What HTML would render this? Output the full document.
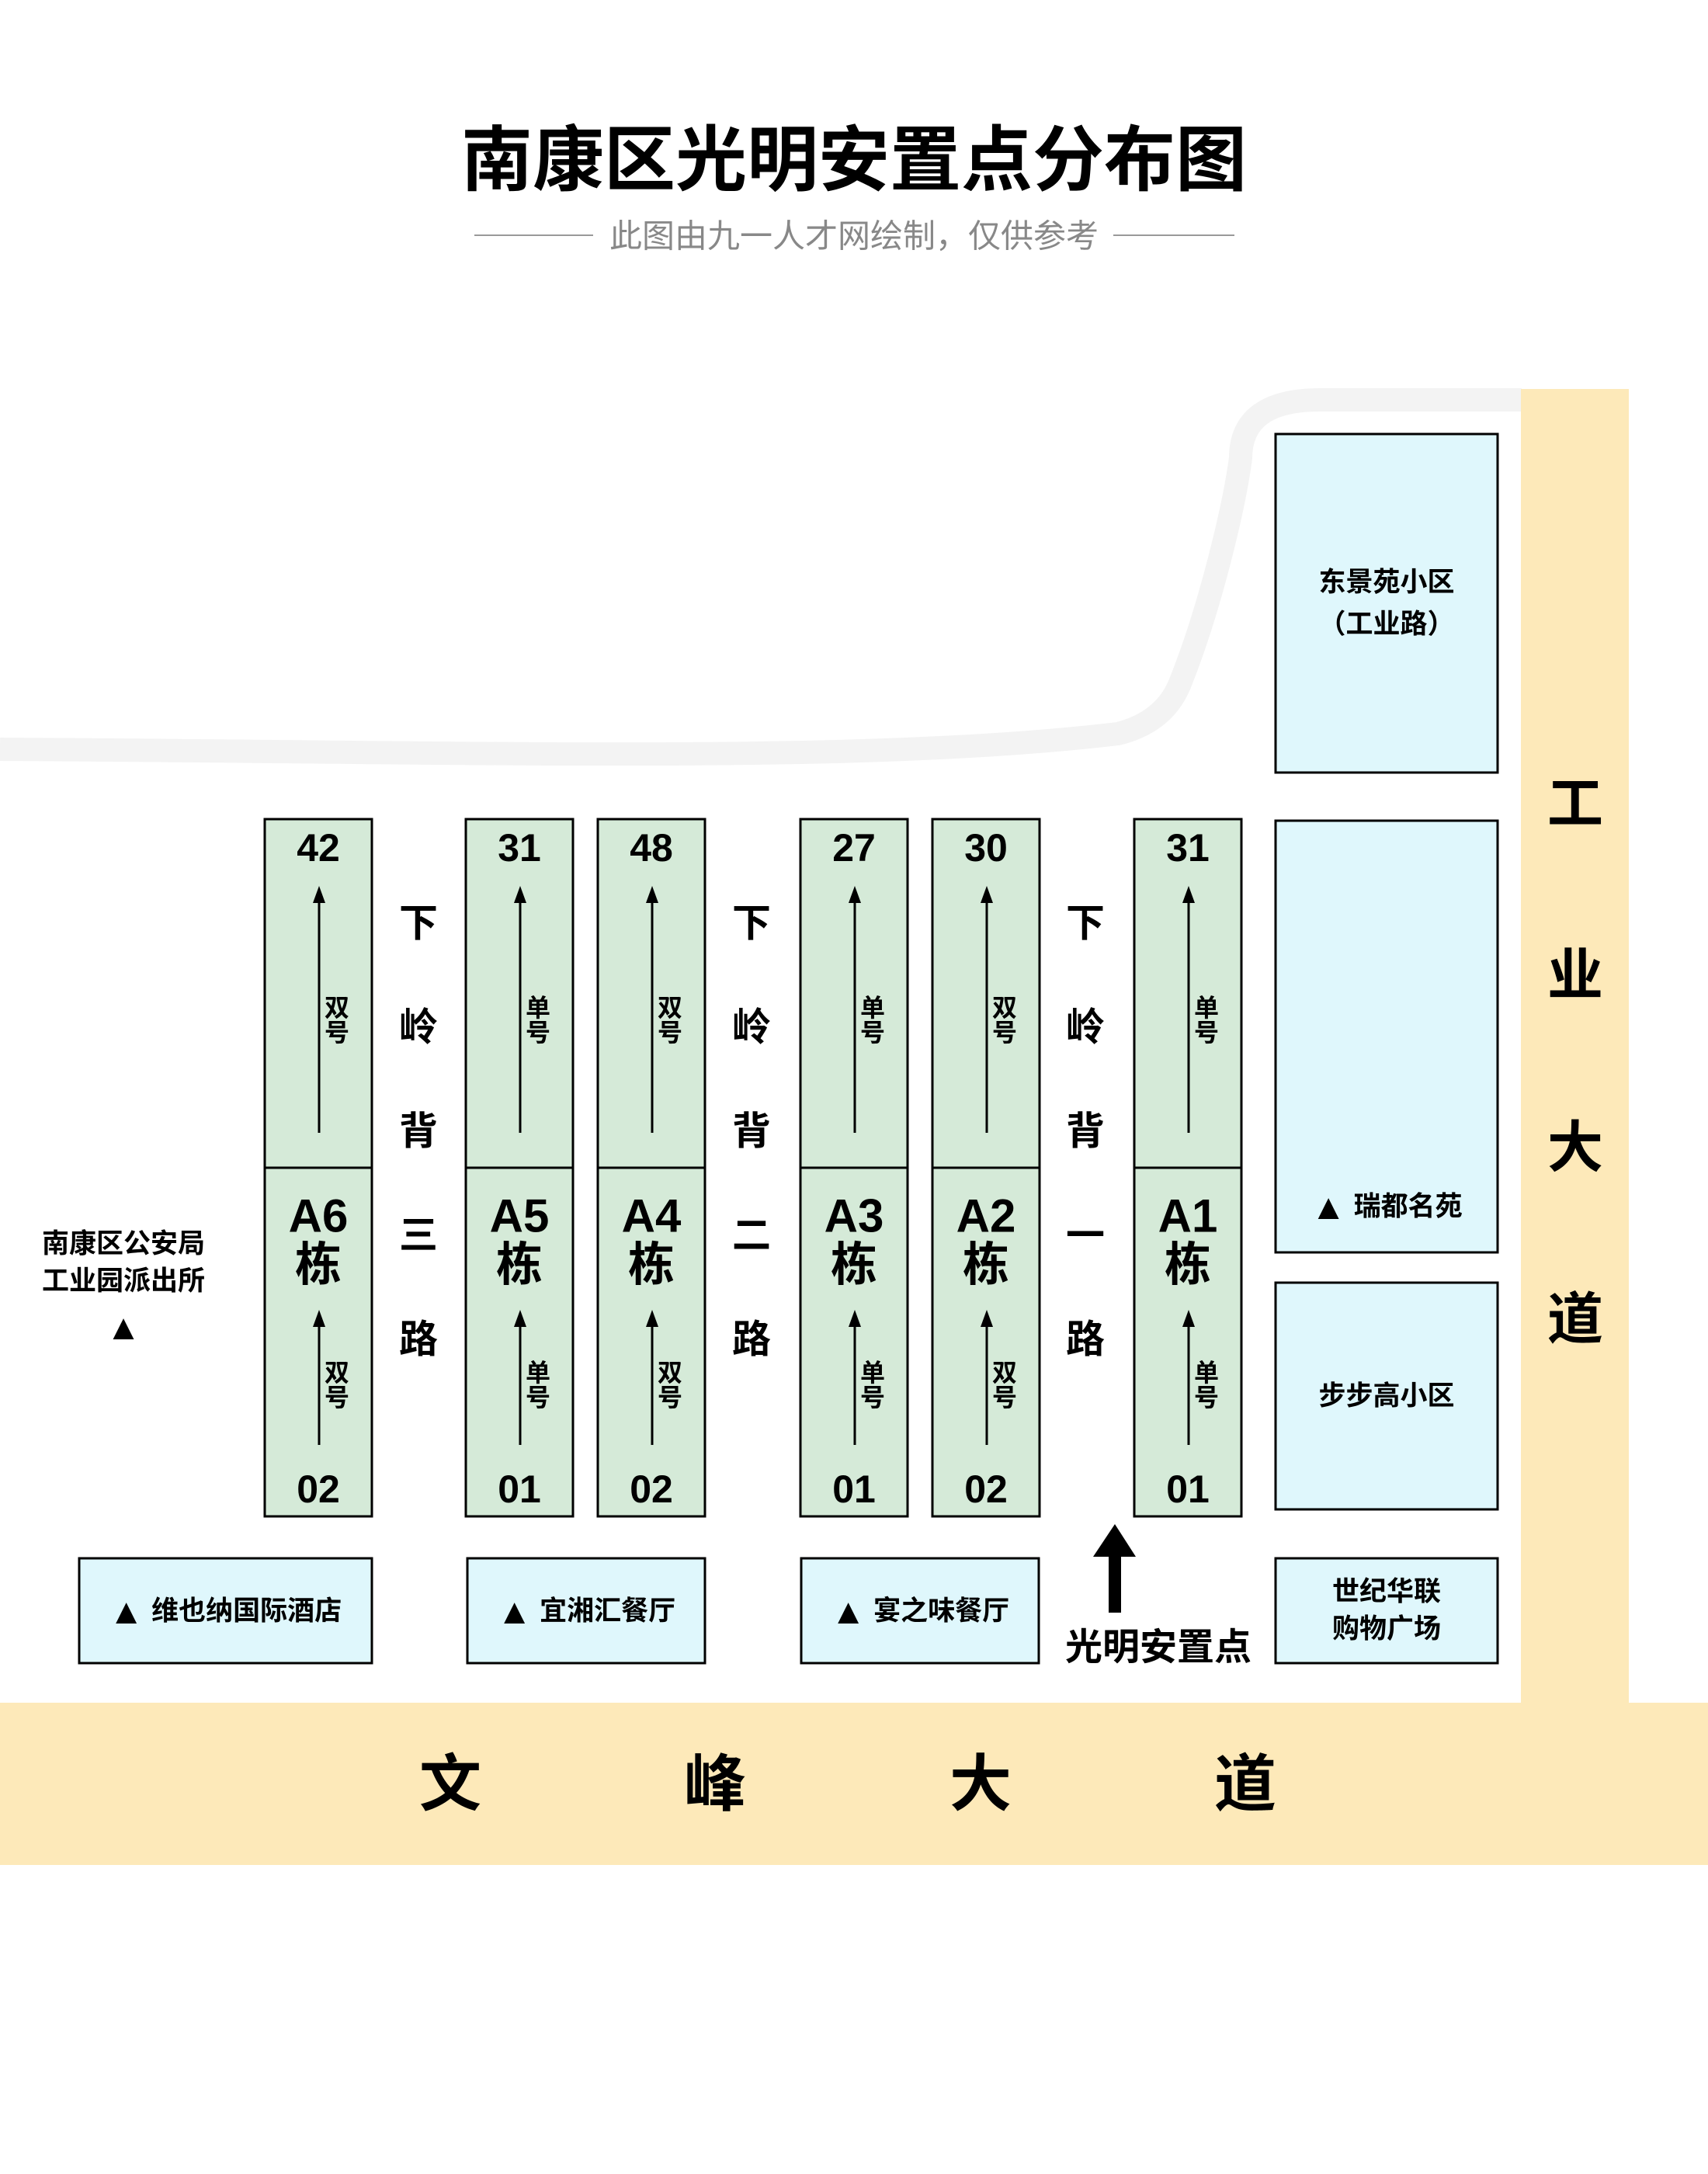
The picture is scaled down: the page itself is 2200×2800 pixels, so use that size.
<!DOCTYPE html>
<html><head><meta charset="utf-8"><style>
html,body{margin:0;padding:0;background:#fff;}
svg{display:block;}
text{font-family:"Liberation Sans","Noto Sans CJK SC",sans-serif;font-weight:bold;fill:#000;}
</style></head><body>
<svg width="2200" height="2800" viewBox="0 0 2200 2800" xmlns="http://www.w3.org/2000/svg">
<rect width="2200" height="2800" fill="#fff"/>
<!-- title -->
<text x="1100" y="207" font-size="92" text-anchor="middle" dominant-baseline="central" font-family="Noto Sans CJK SC, sans-serif" font-weight="900">南康区光明安置点分布图</text>
<line x1="611" y1="303" x2="764" y2="303" stroke="#999" stroke-width="2"/>
<line x1="1434" y1="303" x2="1590" y2="303" stroke="#999" stroke-width="2"/>
<text x="1100" y="304" font-size="42" text-anchor="middle" dominant-baseline="central" style="fill:#888;font-weight:normal">此图由九一人才网绘制，仅供参考</text>

<!-- gray curved road -->
<path d="M0,965 C600,968 1100,985 1440,945 Q1500,930 1520,880 C1560,780 1590,650 1598,590 Q1598,515 1700,515 L1960,515" fill="none" stroke="#f3f3f3" stroke-width="30"/>

<!-- roads -->
<rect x="1959" y="501" width="139" height="1700" fill="#fde9b9"/>
<rect x="0" y="2193" width="2200" height="209" fill="#fde9b9"/>
<g font-size="72" text-anchor="middle" dominant-baseline="central">
<text x="2029" y="1036">工</text><text x="2029" y="1257">业</text><text x="2029" y="1479">大</text><text x="2029" y="1700">道</text>
</g>
<g font-size="80" text-anchor="middle" dominant-baseline="central">
<text x="580" y="2298">文</text><text x="921" y="2298">峰</text><text x="1263" y="2298">大</text><text x="1604" y="2298">道</text>
</g>

<!-- right boxes -->
<g fill="#dff7fc" stroke="#000" stroke-width="3">
<rect x="1643" y="559" width="286" height="436"/>
<rect x="1643" y="1057" width="286" height="556"/>
<rect x="1643" y="1652" width="286" height="292"/>
<rect x="1643" y="2007" width="286" height="135"/>
<rect x="102" y="2007" width="377" height="135"/>
<rect x="602" y="2007" width="306" height="135"/>
<rect x="1032" y="2007" width="306" height="135"/>
</g>
<g font-size="35" text-anchor="middle" dominant-baseline="central">
<text x="1786" y="750">东景苑小区</text>
<text x="1786" y="804">（工业路）</text>
<text x="1786" y="1554"><tspan font-size="46">▲</tspan> 瑞都名苑</text>
<text x="1786" y="1798">步步高小区</text>
<text x="1786" y="2050">世纪华联</text>
<text x="1786" y="2098">购物广场</text>
<text x="290" y="2075"><tspan font-size="46">▲</tspan> 维也纳国际酒店</text>
<text x="755" y="2075"><tspan font-size="46">▲</tspan> 宜湘汇餐厅</text>
<text x="1185" y="2075"><tspan font-size="46">▲</tspan> 宴之味餐厅</text>
<text x="159" y="1602">南康区公安局</text>
<text x="159" y="1650">工业园派出所</text>
<text x="159" y="1709" font-size="46">▲</text>
</g>

<!-- big arrow -->
<polygon points="1436,1963 1463,2005 1408,2005" fill="#000"/>
<rect x="1428" y="2000" width="16" height="77" fill="#000"/>
<text x="1492" y="2122" font-size="48" text-anchor="middle" dominant-baseline="central">光明安置点</text>

<!-- road labels -->
<g font-size="50" text-anchor="middle" dominant-baseline="central">
<text x="539" y="1189">下</text><text x="539" y="1323">岭</text><text x="539" y="1457">背</text><text x="539" y="1591">三</text><text x="539" y="1725">路</text>
<text x="968" y="1189">下</text><text x="968" y="1323">岭</text><text x="968" y="1457">背</text><text x="968" y="1591">二</text><text x="968" y="1725">路</text>
<text x="1398" y="1189">下</text><text x="1398" y="1323">岭</text><text x="1398" y="1457">背</text><text x="1398" y="1591">一</text><text x="1398" y="1725">路</text>
</g>

<!-- buildings -->
<defs>
<g id="bld">
<rect x="0" y="0" width="138" height="449" fill="#d5ead8" stroke="#000" stroke-width="3"/>
<rect x="0" y="449" width="138" height="449" fill="#d5ead8" stroke="#000" stroke-width="3"/>
<line x1="70" y1="103" x2="70" y2="404" stroke="#000" stroke-width="3"/>
<polygon points="70,86 62,108 78,108" fill="#000"/>
<line x1="70" y1="650" x2="70" y2="806" stroke="#000" stroke-width="3"/>
<polygon points="70,632 62,654 78,654" fill="#000"/>
</g>
</defs>
<g font-size="50" text-anchor="middle" dominant-baseline="central">
<g transform="translate(341,1055)"><use href="#bld"/><text x="69" y="37">42</text><text x="69" y="863">02</text><text x="69" y="511" font-size="60">A6</text><text x="69" y="574" font-size="60">栋</text><text x="93" y="243" font-size="32">双</text><text x="93" y="275" font-size="32">号</text><text x="93" y="713" font-size="32">双</text><text x="93" y="745" font-size="32">号</text></g>
<g transform="translate(600,1055)"><use href="#bld"/><text x="69" y="37">31</text><text x="69" y="863">01</text><text x="69" y="511" font-size="60">A5</text><text x="69" y="574" font-size="60">栋</text><text x="93" y="243" font-size="32">单</text><text x="93" y="275" font-size="32">号</text><text x="93" y="713" font-size="32">单</text><text x="93" y="745" font-size="32">号</text></g>
<g transform="translate(770,1055)"><use href="#bld"/><text x="69" y="37">48</text><text x="69" y="863">02</text><text x="69" y="511" font-size="60">A4</text><text x="69" y="574" font-size="60">栋</text><text x="93" y="243" font-size="32">双</text><text x="93" y="275" font-size="32">号</text><text x="93" y="713" font-size="32">双</text><text x="93" y="745" font-size="32">号</text></g>
<g transform="translate(1031,1055)"><use href="#bld"/><text x="69" y="37">27</text><text x="69" y="863">01</text><text x="69" y="511" font-size="60">A3</text><text x="69" y="574" font-size="60">栋</text><text x="93" y="243" font-size="32">单</text><text x="93" y="275" font-size="32">号</text><text x="93" y="713" font-size="32">单</text><text x="93" y="745" font-size="32">号</text></g>
<g transform="translate(1201,1055)"><use href="#bld"/><text x="69" y="37">30</text><text x="69" y="863">02</text><text x="69" y="511" font-size="60">A2</text><text x="69" y="574" font-size="60">栋</text><text x="93" y="243" font-size="32">双</text><text x="93" y="275" font-size="32">号</text><text x="93" y="713" font-size="32">双</text><text x="93" y="745" font-size="32">号</text></g>
<g transform="translate(1461,1055)"><use href="#bld"/><text x="69" y="37">31</text><text x="69" y="863">01</text><text x="69" y="511" font-size="60">A1</text><text x="69" y="574" font-size="60">栋</text><text x="93" y="243" font-size="32">单</text><text x="93" y="275" font-size="32">号</text><text x="93" y="713" font-size="32">单</text><text x="93" y="745" font-size="32">号</text></g>
</g>
</svg>
</body></html>
